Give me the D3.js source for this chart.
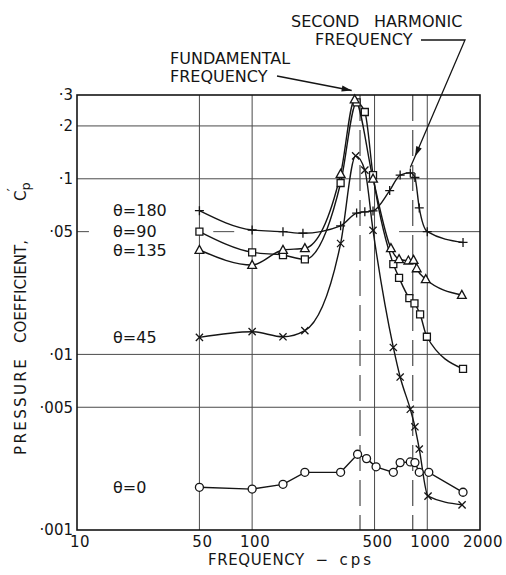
<!DOCTYPE html>
<html><head><meta charset="utf-8">
<script src="https://cdn.jsdelivr.net/npm/d3@7"></script>
<style>
body{margin:0;background:#fff}
svg{display:block}
text{font-family:"DejaVu Sans",sans-serif;fill:#151515}
</style>
</head><body>
<svg id="c" width="506" height="575"></svg>
<script>
// ---- axis ticks ----
const xTicks = [10, 50, 100, 500, 1000, 2000];
const xTickLabels = ["10", "50", "100", "500", "1000", "2000"];
const yTicks = [0.3, 0.2, 0.1, 0.05, 0.01, 0.005, 0.001];
const yTickLabels = ["·3", "·2", "·1", "·05", "·01", "·005", "·001"];
const xGrid = [50, 100, 500, 1000];
const yGrid = [0.2, 0.1, 0.01, 0.005];
const fundamentalFreq = 413;
const secondHarmonicFreq = 826;

// ---- series (frequency in cps, pressure coefficient C'p) ----
const freq180 = [50, 100, 150, 195, 320, 395, 440, 490, 610, 700, 800, 850, 900, 1000, 1600];
const cp180   = [0.0658, 0.0511, 0.0500, 0.0490, 0.0540, 0.0638, 0.0648, 0.0656, 0.0857, 0.105, 0.108, 0.1017, 0.0682, 0.0500, 0.0434];
const freq90  = [50, 100, 150, 200, 320, 395, 440, 490, 640, 690, 790, 845, 910, 995, 1600];
const cp90    = [0.0500, 0.0381, 0.0368, 0.0348, 0.0946, 0.272, 0.240, 0.105, 0.0327, 0.0273, 0.0209, 0.0195, 0.0169, 0.0126, 0.00826];
const freq135 = [50, 100, 150, 200, 320, 385, 490, 620, 690, 780, 835, 870, 980, 1575];
const cp135   = [0.0393, 0.0323, 0.0393, 0.0402, 0.1065, 0.283, 0.100, 0.0402, 0.0348, 0.0342, 0.0345, 0.0309, 0.0268, 0.0218];
const freq45  = [50, 100, 150, 200, 320, 390, 440, 490, 640, 700, 800, 850, 900, 1010, 1580];
const cp45    = [0.0125, 0.01347, 0.0126, 0.01365, 0.0428, 0.135, 0.112, 0.0509, 0.01095, 0.00743, 0.00487, 0.00387, 0.00289, 0.00156, 0.00139];
const freq0   = [50, 100, 150, 200, 320, 400, 450, 510, 640, 700, 800, 850, 900, 1020, 1600];
const cp0     = [0.00175, 0.00171, 0.00182, 0.00213, 0.00213, 0.0027, 0.00255, 0.00229, 0.00213, 0.00242, 0.00244, 0.00242, 0.00213, 0.00213, 0.00164];

const seriesNames = ["θ=180", "θ=90", "θ=135", "θ=45", "θ=0"];

const series = [
  {name: seriesNames[0], f: freq180, v: cp180, marker: "plus", smooth: true},
  {name: seriesNames[1], f: freq90, v: cp90, marker: "square", smooth: true},
  {name: seriesNames[2], f: freq135, v: cp135, marker: "triangle", smooth: true},
  {name: seriesNames[3], f: freq45, v: cp45, marker: "cross", smooth: true},
  {name: seriesNames[4], f: freq0, v: cp0, marker: "circle", smooth: false}
];

const svg = d3.select("#c");
const x = d3.scaleLog().domain([10, 2000]).range([77, 480]);
const y = d3.scaleLog().domain([0.001, 0.3]).range([530, 95]);
const ink = "#151515";
const gridCol = "#4a4a4a";

// ---- grid ----
const grid = svg.append("g");
grid.selectAll(".vg").data(xGrid).join("line")
  .attr("x1", d => x(d)).attr("x2", d => x(d))
  .attr("y1", y(0.3)).attr("y2", y(0.001))
  .attr("stroke", gridCol).attr("stroke-width", 1);
grid.selectAll(".hg").data(yGrid).join("line")
  .attr("y1", d => y(d)).attr("y2", d => y(d))
  .attr("x1", x(10)).attr("x2", x(2000))
  .attr("stroke", gridCol).attr("stroke-width", 1);
// broken .05 line as in the original
const seg05 = [[10, 11.7], [60, 79], [690, 2000]];
grid.selectAll(".g05").data(seg05).join("line")
  .attr("x1", d => x(d[0])).attr("x2", d => x(d[1]))
  .attr("y1", y(0.05)).attr("y2", y(0.05))
  .attr("stroke", gridCol).attr("stroke-width", 1);
// dashed fundamental / second harmonic lines
grid.selectAll(".dl").data([fundamentalFreq, secondHarmonicFreq]).join("line")
  .attr("x1", d => x(d)).attr("x2", d => x(d))
  .attr("y1", y(0.3)).attr("y2", y(0.001))
  .attr("stroke", gridCol).attr("stroke-width", 1.2)
  .attr("stroke-dasharray", "26,9");

// ---- frame ----
svg.append("rect")
  .attr("x", x(10)).attr("y", y(0.3))
  .attr("width", x(2000) - x(10)).attr("height", y(0.001) - y(0.3))
  .attr("fill", "none").attr("stroke", ink).attr("stroke-width", 1.6);

// ---- tick labels ----
svg.selectAll(".xt").data(xTicks).join("text")
  .attr("x", d => x(d) + 3).attr("y", 547)
  .attr("text-anchor", "middle").attr("font-size", 15)
  .attr("letter-spacing", 0.5)
  .text((d, i) => xTickLabels[i]);
svg.selectAll(".yt").data(yTicks).join("text")
  .attr("x", 73).attr("y", d => y(d)).attr("dy", "0.36em")
  .attr("text-anchor", "end").attr("font-size", 15)
  .text((d, i) => yTickLabels[i]);

// ---- curves ----
const plot = svg.append("g");
series.forEach(s => {
  const pts = s.f.map((f, i) => [x(f), y(s.v[i])]);
  const line = d3.line().curve(s.smooth ? d3.curveMonotoneX : d3.curveLinear);
  plot.append("path").attr("d", line(pts))
    .attr("fill", "none").attr("stroke", ink).attr("stroke-width", 1.4);
});

// ---- markers ----
const markerPath = {
  plus: "M-4.5,0H4.5M0,-4.5V4.5",
  cross: "M-3.6,-3.6L3.6,3.6M-3.6,3.6L3.6,-3.6",
  square: "M-3.5,-3.5H3.5V3.5H-3.5Z",
  triangle: "M0,-4.6L4.4,3.4H-4.4Z",
  circle: "M-4,0A4,4 0 1,0 4,0A4,4 0 1,0 -4,0Z"
};
series.forEach(s => {
  plot.selectAll(null).data(s.f.map((f, i) => [f, s.v[i]])).join("path")
    .attr("transform", d => `translate(${x(d[0])},${y(d[1])})`)
    .attr("d", markerPath[s.marker])
    .attr("fill", (s.marker === "plus" || s.marker === "cross") ? "none" : "#fff")
    .attr("stroke", ink).attr("stroke-width", 1.3);
});

// ---- series labels ----
svg.selectAll(".sl").data(series).join("text")
  .attr("x", 113).attr("y", d => y(d.v[0])).attr("dy", "0.36em")
  .attr("font-size", 16)
  .text(d => d.name);

// ---- annotations ----
function arrowHead(g, x1, y1, x2, y2, len, hw) {
  const a = Math.atan2(y2 - y1, x2 - x1);
  const bx = x2 - len * Math.cos(a), by = y2 - len * Math.sin(a);
  const px = -Math.sin(a) * hw, py = Math.cos(a) * hw;
  g.append("path")
    .attr("d", `M${x2},${y2}L${bx + px},${by + py}L${bx - px},${by - py}Z`)
    .attr("fill", ink);
}
const ann = svg.append("g");
ann.append("text").attr("x", 170).attr("y", 64).attr("font-size", 16).text("FUNDAMENTAL");
ann.append("text").attr("x", 170).attr("y", 82).attr("font-size", 16).text("FREQUENCY");
const fTipX = x(385) - 3, fTipY = y(0.283) - 9;
ann.append("line").attr("x1", 277).attr("y1", 76).attr("x2", fTipX).attr("y2", fTipY)
  .attr("stroke", ink).attr("stroke-width", 1.4);
arrowHead(ann, 277, 76, fTipX, fTipY, 10, 3);

ann.append("text").attr("x", 291).attr("y", 27).attr("font-size", 16).text("SECOND");
ann.append("text").attr("x", 374).attr("y", 27).attr("font-size", 16).text("HARMONIC");
ann.append("text").attr("x", 315).attr("y", 45).attr("font-size", 16).text("FREQUENCY");
const hTipX = x(800), hTipY = y(0.116);
ann.append("path").attr("d", `M421,40H465L${hTipX},${hTipY}`)
  .attr("fill", "none").attr("stroke", ink).attr("stroke-width", 1.3);
{
  const a = Math.atan2(hTipY - 40, hTipX - 465);
  const ex = hTipX - 12 * Math.cos(a), ey = hTipY - 12 * Math.sin(a);
  arrowHead(ann, 465, 40, ex, ey, 10, 3);
}

// ---- axis titles ----
const xt = svg.append("text").attr("x", 208).attr("y", 565).attr("font-size", 15)
  .attr("letter-spacing", 0.6).attr("xml:space", "preserve");
xt.append("tspan").text("FREQUENCY  −  ");
xt.append("tspan").attr("letter-spacing", 3).text("cps");

const yt = svg.append("g").attr("transform", "translate(25.5,0) rotate(-90)");
yt.append("text").attr("x", -455).attr("y", 0).attr("font-size", 15)
  .attr("letter-spacing", 2.4).text("PRESSURE");
yt.append("text").attr("x", -343).attr("y", 0).attr("font-size", 15)
  .text("COEFFICIENT,");
const cp = yt.append("text").attr("x", -201).attr("y", 0).attr("font-size", 15);
cp.append("tspan").text("C");
cp.append("tspan").attr("dy", 4).attr("font-size", 13).text("p");
cp.append("tspan").attr("dx", -9).attr("dy", -14).attr("font-size", 13).text("′");
</script>
</body></html>
